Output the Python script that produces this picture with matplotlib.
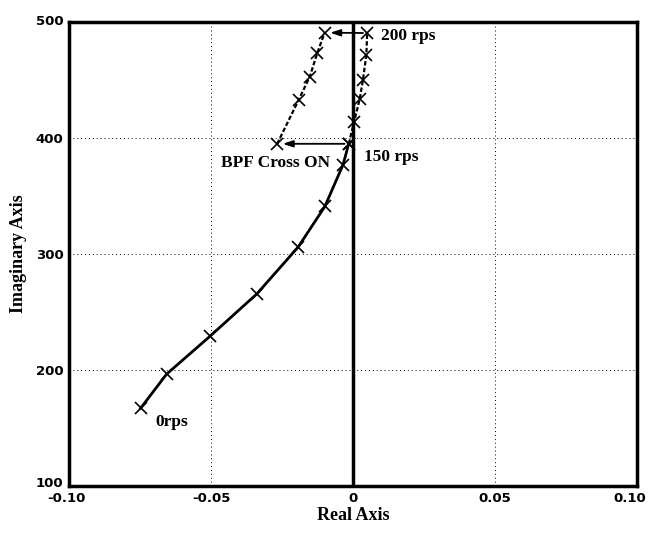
import matplotlib
matplotlib.use("Agg")
import matplotlib.pyplot as plt
import matplotlib.transforms as mtransforms

# Lower locus: 0 rps up to 150 rps (BPF Cross OFF)
low_re = [-0.0748, -0.0656, -0.0504, -0.0339, -0.0193, -0.0099, -0.0035, -0.0015]
low_im = [167, 196.5, 229, 265.5, 306, 341, 377, 395]
# Continuation of upper right branch: 150 rps to 200 rps
right_re = [-0.0015, 0.0004, 0.0024, 0.0035, 0.0047, 0.0050]
right_im = [395, 414, 434, 450, 471.6, 490.5]
# Upper left branch (BPF Cross ON)
left_re = [-0.0267, -0.0191, -0.0152, -0.0126, -0.0100]
left_im = [395, 433, 453, 473, 490.8]

xticks = [-0.10, -0.05, 0, 0.05, 0.10]
xtick_labels = ["-0.10", "-0.05", "0", "0.05", "0.10"]
yticks = [100, 200, 300, 400, 500]

fig = plt.figure(figsize=(6.52, 5.34), dpi=100)
ax = fig.add_axes([0.1058, 0.0899, 0.8712, 0.8689])

ax.set_xlim(-0.10, 0.10)
ax.set_ylim(100, 500)
ax.set_xticks(xticks)
ax.set_xticklabels(xtick_labels)
ax.set_yticks(yticks)
ax.tick_params(length=0, pad=4, labelsize=9.5)
for lab in ax.get_xticklabels() + ax.get_yticklabels():
    lab.set_fontweight("bold")
    lab.set_family("DejaVu Sans")

# small offsets of the corner labels as in the reference
xl = ax.get_xticklabels()
xl[0].set_transform(xl[0].get_transform() + mtransforms.ScaledTranslation(-0.03, 0, fig.dpi_scale_trans))
xl[-1].set_transform(xl[-1].get_transform() + mtransforms.ScaledTranslation(-0.07, 0, fig.dpi_scale_trans))
yl = ax.get_yticklabels()
yl[0].set_transform(yl[0].get_transform() + mtransforms.ScaledTranslation(0, 0.04, fig.dpi_scale_trans))
yl[-1].set_transform(yl[-1].get_transform() + mtransforms.ScaledTranslation(0, 0.02, fig.dpi_scale_trans))

ax.grid(True, color="black", linestyle=(0, (1, 3)), linewidth=0.7)
for s in ax.spines.values():
    s.set_linewidth(2.5)

ax.axvline(0, color="black", linewidth=2.5, zorder=2)

ax.plot(low_re, low_im, color="black", linewidth=2.0, marker="x",
        markersize=9, markeredgewidth=1.2, zorder=3)
ax.plot(right_re, right_im, color="black", linewidth=1.6, linestyle=(0, (2, 1)),
        marker="x", markersize=9, markeredgewidth=1.2, zorder=3)
ax.plot(left_re, left_im, color="black", linewidth=1.6, linestyle=(0, (2, 1)),
        marker="x", markersize=9, markeredgewidth=1.2, zorder=3)

arrow = dict(arrowstyle="-|>,head_length=0.6,head_width=0.2", color="black", lw=1.3,
             shrinkA=3, shrinkB=4)
ax.annotate("", xy=(left_re[0], left_im[0]), xytext=(right_re[0], right_im[0]),
            arrowprops=arrow)
ax.annotate("", xy=(left_re[-1], left_im[-1]), xytext=(right_re[-1], right_im[-1]),
            arrowprops=arrow)

tfont = dict(family="Liberation Serif", fontweight="bold", fontsize=12.5)
ax.text(0.0099, 488, "200 rps", ha="left", va="center", **tfont)
ax.text(0.0039, 383.5, "150 rps", ha="left", va="center", **tfont)
ax.text(-0.0081, 378.5, "BPF Cross ON", ha="right", va="center", **tfont)
ax.text(-0.0697, 155, "0rps", ha="left", va="center", **tfont)

ax.set_xlabel("Real Axis", family="Liberation Serif", fontweight="bold", fontsize=13, labelpad=2)
ax.set_ylabel("Imaginary Axis", family="Liberation Serif", fontweight="bold", fontsize=13, labelpad=6)

fig.savefig("out.png", dpi=100)
